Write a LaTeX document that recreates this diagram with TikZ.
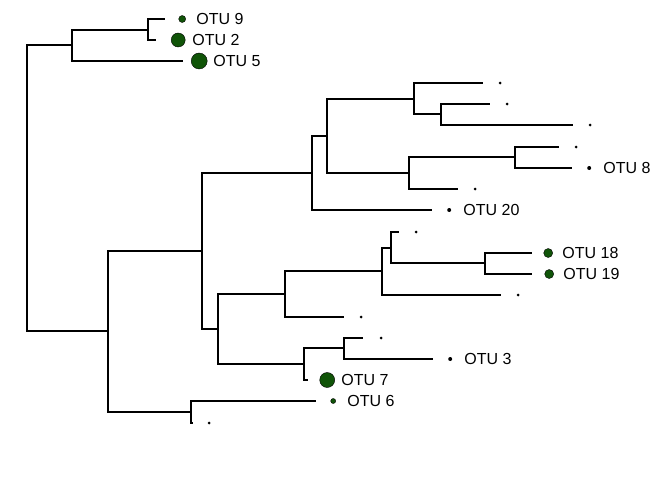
\documentclass[tikz,border=0pt]{standalone}
\usepackage{fontspec}
\setmainfont{Liberation Sans}
\usetikzlibrary{positioning}
\definecolor{otu-green}{RGB}{16,84,8}

\begin{document}
\begin{tikzpicture}[x=1pt, y=-1pt, node distance=14pt,
branch/.style={line width=1.7pt},
tip/.style={circle,inner sep=0pt,fill=black,minimum size=#1},
otu/.style={circle,inner sep=0pt,draw=black,thin,fill=otu-green,minimum size=#1},
lab/.style={inner sep=0pt,font=\fontsize{16}{19}\selectfont}]
\useasboundingbox (0,0) rectangle (672,480);

% internal nodes
\coordinate (root) at (27,188);
\coordinate (nA) at (72,45);
\coordinate (n92) at (148,30);
\coordinate (nB) at (108,331);
\coordinate (nB1) at (202,251);
\coordinate (nB2) at (191,412);
\coordinate (nC) at (312,173);
\coordinate (nE) at (327,136);
\coordinate (nF) at (414,99);
\coordinate (nH) at (441,114);
\coordinate (nG) at (409,173);
\coordinate (nI) at (515,157);
\coordinate (nD) at (218,329);
\coordinate (nJ) at (285,294);
\coordinate (nL) at (382,271);
\coordinate (nM) at (391,248);
\coordinate (nN) at (485,263);
\coordinate (nK) at (304,364);
\coordinate (nO) at (344,348);

% tips
\coordinate (otu9) at (165,19);
\coordinate (otu2) at (156,40);
\coordinate (otu5) at (183,61);
\coordinate (u4) at (483,83);
\coordinate (u5) at (490,104);
\coordinate (u6) at (573,125);
\coordinate (u7) at (559,147);
\coordinate (otu8) at (572,168);
\coordinate (u9) at (458,189);
\coordinate (otu20) at (432,210);
\coordinate (u11) at (399,232);
\coordinate (otu18) at (532,253);
\coordinate (otu19) at (532,274);
\coordinate (u14) at (501,295);
\coordinate (u15) at (344,317);
\coordinate (u16) at (363,338);
\coordinate (otu3) at (433,359);
\coordinate (otu7) at (308,380);
\coordinate (otu6) at (316,401);
\coordinate (u20) at (193,423);

% branches
\draw[branch] (root) |- (nA);
\draw[branch] (root) |- (nB);
\draw[branch] (nA) |- (n92);
\draw[branch] (nA) |- (otu5);
\draw[branch] (n92) |- (otu9);
\draw[branch] (n92) |- (otu2);
\draw[branch] (nB) |- (nB1);
\draw[branch] (nB) |- (nB2);
\draw[branch] (nB1) |- (nC);
\draw[branch] (nB1) |- (nD);
\draw[branch] (nC) |- (nE);
\draw[branch] (nC) |- (otu20);
\draw[branch] (nE) |- (nF);
\draw[branch] (nE) |- (nG);
\draw[branch] (nF) |- (u4);
\draw[branch] (nF) |- (nH);
\draw[branch] (nH) |- (u5);
\draw[branch] (nH) |- (u6);
\draw[branch] (nG) |- (nI);
\draw[branch] (nG) |- (u9);
\draw[branch] (nI) |- (u7);
\draw[branch] (nI) |- (otu8);
\draw[branch] (nD) |- (nJ);
\draw[branch] (nD) |- (nK);
\draw[branch] (nJ) |- (nL);
\draw[branch] (nJ) |- (u15);
\draw[branch] (nL) |- (nM);
\draw[branch] (nL) |- (u14);
\draw[branch] (nM) |- (u11);
\draw[branch] (nM) |- (nN);
\draw[branch] (nN) |- (otu18);
\draw[branch] (nN) |- (otu19);
\draw[branch] (nK) |- (nO);
\draw[branch] (nK) |- (otu7);
\draw[branch] (nO) |- (u16);
\draw[branch] (nO) |- (otu3);
\draw[branch] (nB2) |- (otu6);
\draw[branch] (nB2) |- (u20);

% tip points
\node [otu=7pt, right=13.5pt of otu9] (d9) {};
\node [otu=14pt, right=15pt of otu2] (d2) {};
\node [otu=16pt, right=8pt of otu5] (d5) {};
\node [tip=3pt, right=15.5pt of u4] (du4) {};
\node [tip=3pt, right=15.5pt of u5] (du5) {};
\node [tip=3pt, right=15.5pt of u6] (du6) {};
\node [tip=3pt, right=15.5pt of u7] (du7) {};
\node [tip=4pt, right=15pt of otu8] (d8) {};
\node [tip=3pt, right=15.5pt of u9] (du9) {};
\node [tip=4pt, right=15pt of otu20] (d20) {};
\node [tip=3pt, right=15.5pt of u11] (du11) {};
\node [otu=9pt, right=11.5pt of otu18] (d18) {};
\node [otu=9pt, right=12.5pt of otu19] (d19) {};
\node [tip=3pt, right=15.5pt of u14] (du14) {};
\node [tip=3pt, right=15.5pt of u15] (du15) {};
\node [tip=3pt, right=16.5pt of u16] (du16) {};
\node [tip=4pt, right=15pt of otu3] (d3) {};
\node [otu=15pt, right=11.5pt of otu7] (d7) {};
\node [otu=5pt, right=14.5pt of otu6] (d6) {};
\node [tip=3pt, right=14.5pt of u20] (du20) {};

% labels
\node [lab, right = of d9.center] {OTU 9};
\node [lab, right = of d2.center] {OTU 2};
\node [lab, right = of d5.center] {OTU 5};
\node [lab, right = of d8.center] {OTU 8};
\node [lab, right = of d20.center] {OTU 20};
\node [lab, right = of d18.center] {OTU 18};
\node [lab, right = of d19.center] {OTU 19};
\node [lab, right = of d3.center] {OTU 3};
\node [lab, right = of d7.center] {OTU 7};
\node [lab, right = of d6.center] {OTU 6};
\end{tikzpicture}
\end{document}
